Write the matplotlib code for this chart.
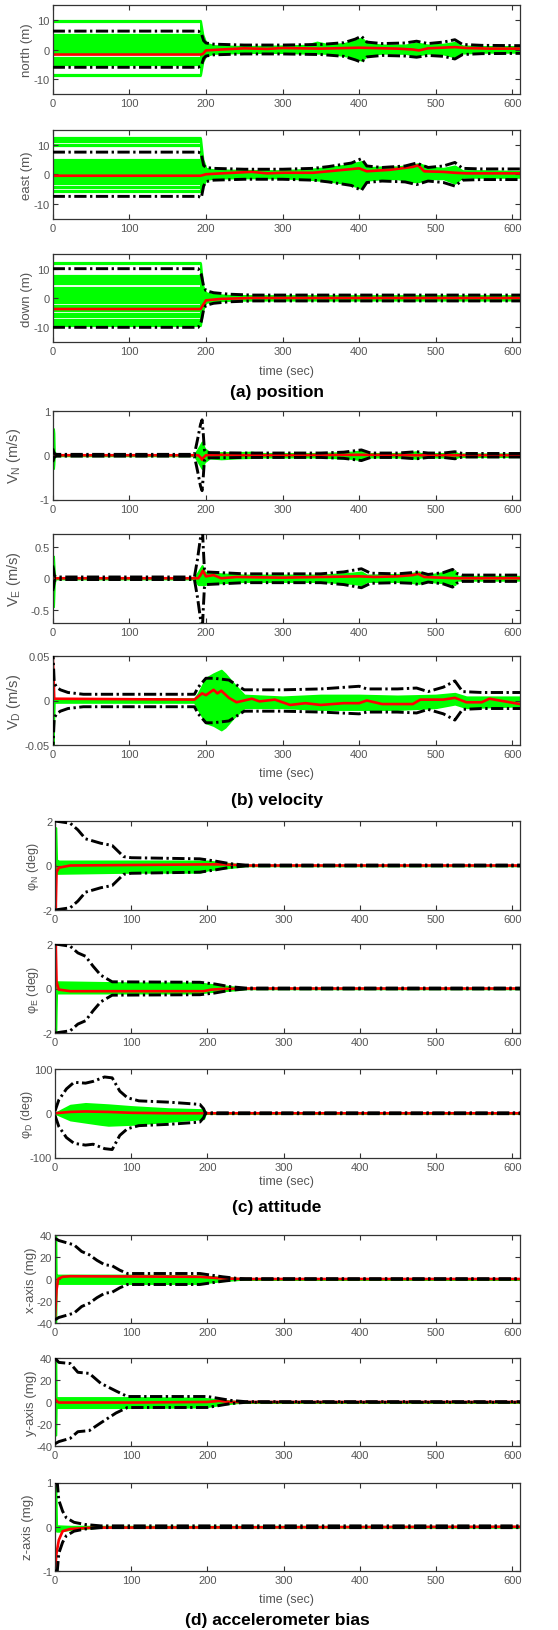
import matplotlib
matplotlib.use("Agg")
import matplotlib.pyplot as plt
from matplotlib.ticker import FuncFormatter

plt.rcParams['font.family'] = ['Liberation Sans', 'DejaVu Sans']
plt.rcParams['axes.unicode_minus'] = False
plt.rcParams['mathtext.fontset'] = 'custom'
plt.rcParams['mathtext.rm'] = 'Liberation Sans'
plt.rcParams['mathtext.it'] = 'Liberation Sans:italic'

# ---------------- (a) position ----------------
N_levels = [9.6, 4.8, 4.0, 3.2, 2.4, 1.6, 0.8, 0.0, -0.8, -2.8, -3.5, -4.2, -5.0, -8.5]
N_band_t = [193, 196, 200, 210, 250, 300, 330, 345, 360, 380, 395, 403, 412, 430, 460, 475, 490, 510, 525, 535, 560, 610]
N_band_up = [9.6, 5, 2.2, 1.3, 1.0, 1.2, 1.4, 2.5, 1.6, 2.0, 3.0, 3.8, 2.0, 1.5, 1.5, 2.2, 1.5, 1.8, 2.4, 1.2, 1.0, 1.0]
N_band_dn = [-8.5, -4, -2.0, -1.3, -1.0, -1.0, -1.2, -1.2, -1.3, -2.0, -2.8, -3.6, -1.8, -1.2, -1.3, -1.9, -1.2, -1.5, -2.5, -1.2, -0.9, -0.9]
N_sig_t = [0, 190, 194, 197, 200, 210, 250, 300, 350, 380, 395, 403, 410, 430, 460, 475, 490, 510, 525, 535, 560, 610]
N_sig_up = [6.2, 6.2, 5.5, 3.0, 2.2, 1.8, 1.5, 1.5, 1.7, 2.3, 3.5, 4.5, 2.5, 2.0, 2.2, 2.8, 2.0, 2.5, 3.3, 1.7, 1.4, 1.3]
N_sig_dn = [-6, -6, -5.5, -3, -2.2, -1.8, -1.5, -1.5, -1.7, -2.3, -3.5, -4.3, -2.5, -2.0, -2.2, -2.6, -2.0, -2.3, -3.2, -1.7, -1.4, -1.3]
N_mean_t = [0, 193, 196, 200, 220, 250, 280, 300, 350, 400, 450, 470, 478, 490, 525, 540, 570, 610]
N_mean = [-1.7, -1.7, -1.5, -0.3, 0, 0.4, 0.2, 0.5, 0.3, 0.6, 0.3, 0.0, -0.3, 0.4, 0.8, 0.5, 0.3, 0.3]

E_levels = [12.2, 11.2, 10.0, 5.0, 4.2, 3.4, 2.6, 1.8, 1.0, 0.2, -0.6, -1.4, -2.2, -3.0, -4.2, -5.8]
E_band_t = [193, 196, 200, 210, 250, 300, 340, 360, 380, 395, 403, 410, 430, 450, 470, 478, 490, 510, 525, 535, 560, 610]
E_band_up = [12.2, 5, 2.0, 1.5, 1.3, 1.2, 1.8, 2.3, 3.0, 3.8, 4.3, 2.2, 2.5, 2.5, 3.2, 3.6, 2.5, 2.0, 2.8, 1.2, 1.2, 1.0]
E_band_dn = [-5.8, -4, -1.8, -1.3, -1.2, -1.2, -1.8, -2.3, -3.0, -4.0, -4.8, -2.0, -1.5, -1.5, -2.5, -2.5, -1.5, -1.5, -3.0, -1.0, -1.0, -1.0]
E_sig_t = [0, 190, 194, 197, 200, 210, 250, 300, 340, 360, 390, 403, 410, 430, 460, 475, 490, 510, 525, 535, 560, 610]
E_sig_up = [7.5, 7.5, 7, 3, 2.3, 2, 1.7, 1.7, 2.0, 2.6, 3.8, 5.3, 2.8, 2.3, 2.8, 3.8, 2.3, 2.8, 4.0, 2.0, 1.8, 1.8]
E_sig_dn = [-7.5, -7.5, -8, -4, -2.5, -2, -1.7, -1.7, -2.0, -2.6, -3.8, -5.5, -2.8, -2.3, -2.6, -3.5, -2.3, -2.8, -4.0, -2.0, -1.8, -1.8]
E_mean_t = [0, 193, 196, 200, 220, 260, 280, 300, 340, 360, 400, 405, 410, 440, 470, 477, 485, 510, 525, 540, 610]
E_mean = [-0.5, -0.5, -0.3, 0, 0.3, 0.8, 0.3, 0.5, 0.5, 1.0, 2.0, 1.5, 1.0, 1.5, 2.5, 3.0, 1.0, 0.8, 0.5, 0.3, 0.3]

D_levels = [11.8, 7.6, 6.8, 6.0, 5.2, 3.4, 2.6, 1.8, 1.0, 0.2, -0.6, -1.2, -2.8, -3.6, -4.2, -5.6, -6.2, -7.6, -8.4, -9.2]
D_band_t = [193, 196, 200, 210, 230, 260, 610]
D_band_up = [11.8, 4, 1.8, 1.2, 0.9, 0.8, 0.8]
D_band_dn = [-9.2, -4, -1.5, -1.0, -0.8, -0.7, -0.7]
D_sig_t = [0, 190, 194, 197, 200, 210, 230, 260, 610]
D_sig_up = [10, 10, 8, 4, 2.5, 1.8, 1.3, 1.0, 1.0]
D_sig_dn = [-10, -10, -8, -4, -2.5, -1.8, -1.3, -1.0, -1.0]
D_mean_t = [0, 193, 196, 200, 220, 260, 610]
D_mean = [-3.75, -3.75, -2.5, -0.8, -0.3, 0, 0]

# ---------------- (b) velocity ----------------
VN_band_t = [0, 0.5, 1, 1.5, 2, 3, 185, 190, 195, 198, 205, 220, 240, 260, 270, 350, 390, 403, 410, 450, 470, 475, 480, 510, 525, 530, 610]
VN_band_up = [0.6, 0.6, 0.6, 0.5, 0.1, 0.01, 0.01, 0.15, 0.3, 0.15, 0.06, 0.06, 0.06, 0.07, 0.04, 0.04, 0.07, 0.1, 0.04, 0.04, 0.07, 0.08, 0.04, 0.04, 0.07, 0.03, 0.03]
VN_band_dn = [-0.3, -0.3, -0.3, -0.2, -0.05, -0.01, -0.01, -0.15, -0.3, -0.15, -0.06, -0.08, -0.06, -0.05, -0.04, -0.04, -0.07, -0.1, -0.04, -0.04, -0.06, -0.07, -0.04, -0.04, -0.06, -0.03, -0.03]
VN_sig_t = [0, 1, 2, 5, 185, 189, 193, 195, 196.5, 198, 200, 250, 350, 380, 403, 415, 450, 475, 490, 510, 525, 535, 610]
VN_sig_up = [0.15, 0.1, 0.04, 0.02, 0.02, 0.35, 0.7, 0.8, 0.5, 0.12, 0.06, 0.05, 0.05, 0.07, 0.12, 0.05, 0.05, 0.08, 0.05, 0.05, 0.08, 0.04, 0.04]
VN_sig_dn = [-0.15, -0.1, -0.04, -0.02, -0.02, -0.35, -0.7, -0.8, -0.5, -0.12, -0.06, -0.05, -0.05, -0.07, -0.12, -0.05, -0.05, -0.08, -0.05, -0.05, -0.08, -0.04, -0.04]
VN_mean_t = [0, 1, 2, 190, 193, 195, 197, 200, 220, 250, 300, 400, 475, 525, 610]
VN_mean = [0, -0.1, 0, 0, -0.05, -0.1, -0.05, 0, 0.01, 0, 0, 0.01, 0, 0, 0]

VE_band_t = [0, 1, 2, 3, 185, 190, 195, 198, 205, 250, 350, 390, 403, 410, 450, 470, 478, 490, 510, 525, 528, 610]
VE_band_up = [0.35, 0.35, 0.1, 0.01, 0.01, 0.1, 0.2, 0.1, 0.08, 0.05, 0.05, 0.08, 0.1, 0.05, 0.06, 0.08, 0.1, 0.05, 0.09, 0.12, 0.03, 0.03]
VE_band_dn = [-0.45, -0.45, -0.1, -0.01, -0.01, -0.1, -0.1, -0.1, -0.08, -0.05, -0.05, -0.08, -0.1, -0.05, -0.05, -0.07, -0.08, -0.05, -0.07, -0.1, -0.03, -0.03]
VE_sig_t = [0, 1, 2, 4, 185, 189, 193, 195, 196.5, 198, 200, 250, 350, 380, 403, 415, 450, 470, 478, 490, 510, 522, 527, 535, 610]
VE_sig_up = [0.2, 0.15, 0.05, 0.02, 0.02, 0.3, 0.65, 0.9, 0.5, 0.15, 0.1, 0.07, 0.07, 0.1, 0.15, 0.08, 0.07, 0.09, 0.1, 0.06, 0.09, 0.14, 0.08, 0.05, 0.05]
VE_sig_dn = [-0.2, -0.15, -0.05, -0.02, -0.02, -0.3, -0.65, -0.9, -0.5, -0.15, -0.1, -0.07, -0.07, -0.1, -0.15, -0.08, -0.07, -0.08, -0.1, -0.06, -0.09, -0.14, -0.08, -0.05, -0.05]
VE_mean_t = [0, 1, 2, 190, 193, 196, 200, 210, 220, 240, 300, 350, 400, 420, 450, 470, 477, 485, 525, 540, 610]
VE_mean = [0, 0.1, 0, 0, 0.05, 0.12, 0.03, 0.05, 0.0, 0.02, 0.01, 0.02, 0.03, 0.02, 0.03, 0.05, 0.07, 0.02, 0.0, 0.0, 0.0]

VD_band_t = [0, 0.5, 1, 2, 3, 185, 190, 200, 210, 220, 225, 235, 250, 300, 350, 400, 450, 500, 525, 540, 610]
VD_band_up = [0, 0, 0, 0.002, 0.002, 0.002, 0.008, 0.025, 0.03, 0.034, 0.03, 0.02, 0.006, 0.004, 0.006, 0.006, 0.005, 0.006, 0.008, 0.004, 0.004]
VD_band_dn = [-0.05, -0.05, -0.03, -0.002, -0.002, -0.002, -0.01, -0.025, -0.028, -0.033, -0.03, -0.02, -0.008, -0.008, -0.01, -0.01, -0.01, -0.008, -0.004, -0.008, -0.006]
VD_sig_t = [0, 1, 2, 5, 10, 20, 40, 185, 190, 200, 210, 230, 250, 300, 350, 400, 410, 450, 475, 490, 510, 525, 535, 560, 610]
VD_sig_up = [0.06, 0.04, 0.02, 0.015, 0.012, 0.009, 0.007, 0.007, 0.015, 0.025, 0.025, 0.023, 0.012, 0.012, 0.013, 0.016, 0.013, 0.013, 0.014, 0.01, 0.015, 0.022, 0.01, 0.009, 0.009]
VD_sig_dn = [-0.06, -0.04, -0.02, -0.015, -0.012, -0.009, -0.007, -0.007, -0.015, -0.025, -0.025, -0.023, -0.012, -0.012, -0.013, -0.015, -0.013, -0.013, -0.014, -0.01, -0.015, -0.022, -0.01, -0.009, -0.009]
VD_mean_t = [0, 1, 2, 185, 195, 200, 210, 215, 220, 230, 240, 260, 270, 290, 310, 330, 350, 380, 400, 410, 430, 470, 480, 510, 525, 540, 560, 570, 590, 610]
VD_mean = [0.05, 0.03, 0.002, 0.001, 0.008, 0.006, 0.012, 0.008, 0.011, 0.003, -0.002, 0.002, -0.001, 0.001, -0.005, -0.003, -0.005, -0.003, -0.003, 0, -0.004, -0.004, 0.001, 0.001, 0.003, -0.002, -0.002, 0.002, -0.001, -0.004]

# ---------------- (c) attitude ----------------
PN_band_t = [0, 0.5, 1, 1.5, 2, 5, 100, 190, 200, 220, 240, 250, 610]
PN_band_up = [1.7, 1.7, 1.7, 1.0, 0.25, 0.2, 0.2, 0.2, 0.2, 0.12, 0.05, 0.01, 0.01]
PN_band_dn = [0, 0, 0, -0.3, -0.35, -0.35, -0.3, -0.3, -0.2, -0.12, -0.05, -0.01, -0.01]
PN_sig_t = [0, 20, 30, 40, 60, 75, 90, 100, 190, 210, 230, 250, 610]
PN_sig_up = [2, 1.9, 1.6, 1.2, 1.0, 0.9, 0.4, 0.35, 0.3, 0.2, 0.08, 0.02, 0.02]
PN_sig_dn = [-2, -1.9, -1.6, -1.2, -1.0, -0.9, -0.4, -0.35, -0.3, -0.2, -0.08, -0.02, -0.02]
PN_mean_t = [0, 1, 2, 5, 20, 200, 220, 250, 610]
PN_mean = [0, -1.9, -0.3, -0.1, 0, 0.05, 0.05, 0, 0]

PE_band_t = [0, 0.5, 1, 1.5, 2, 5, 100, 190, 200, 220, 240, 250, 610]
PE_band_up = [0.3, 0.3, 0.3, 0.3, 0.3, 0.3, 0.25, 0.25, 0.2, 0.12, 0.05, 0.01, 0.01]
PE_band_dn = [-2, -2, -2, -1.0, -0.2, -0.2, -0.2, -0.2, -0.15, -0.1, -0.05, -0.01, -0.01]
PE_sig_t = [0, 20, 30, 40, 50, 60, 75, 190, 210, 230, 250, 610]
PE_sig_up = [2, 1.9, 1.6, 1.45, 1.0, 0.6, 0.3, 0.28, 0.2, 0.08, 0.02, 0.02]
PE_sig_dn = [-2, -1.9, -1.6, -1.45, -1.0, -0.6, -0.3, -0.28, -0.2, -0.08, -0.02, -0.02]
PE_mean_t = [0, 1, 2, 5, 20, 195, 205, 220, 250, 610]
PE_mean = [0, 2, 0.3, -0.05, -0.12, -0.12, -0.05, -0.02, 0, 0]

PD_band_t = [0, 20, 40, 60, 70, 100, 150, 195, 197, 610]
PD_band_up = [0, 18, 22, 20, 19, 15, 10, 8, 0.5, 0.5]
PD_band_dn = [0, -15, -20, -25, -27, -25, -18, -12, -0.5, -0.5]
PD_sig_t = [0, 5, 15, 25, 40, 50, 65, 75, 85, 95, 110, 150, 190, 195, 197, 610]
PD_sig_up = [5, 30, 55, 70, 68, 72, 82, 80, 50, 35, 28, 25, 20, 10, 1, 1]
PD_sig_dn = [-5, -30, -55, -68, -72, -70, -80, -82, -50, -35, -28, -25, -20, -10, -1, -1]
PD_mean_t = [0, 20, 40, 70, 100, 150, 196, 610]
PD_mean = [0, 3, 4, 3, 1, 0, 0, 0]

# ---------------- (d) accelerometer bias ----------------
AX_band_t = [0, 0.5, 1, 1.5, 3, 100, 190, 200, 220, 240, 250, 610]
AX_band_up = [40, 40, 40, 3.5, 3.5, 3.5, 3, 2.5, 1.5, 0.5, 0.2, 0.2]
AX_band_dn = [-40, -40, -40, -4, -4, -4, -4, -3, -1.5, -0.5, -0.2, -0.2]
AX_sig_t = [0, 5, 15, 25, 35, 45, 55, 65, 75, 85, 95, 190, 200, 220, 240, 250, 610]
AX_sig_up = [37, 35, 33, 31, 25, 22, 17, 13, 12, 8, 5, 5, 4, 2, 0.5, 0.3, 0.3]
AX_sig_dn = [-37, -35, -33, -31, -25, -22, -17, -13, -12, -8, -5, -5, -4, -2, -0.5, -0.3, -0.3]
AX_mean_t = [0, 2, 4, 10, 20, 190, 220, 250, 610]
AX_mean = [-37, -10, 0, 2, 2.5, 2, 0.5, 0, 0]

AY_band_t = [0, 0.5, 1, 1.5, 3, 100, 190, 200, 220, 240, 250, 610]
AY_band_up = [40, 40, 40, 4, 4, 4, 3.5, 3, 1.5, 0.5, 0.2, 0.2]
AY_band_dn = [-30, -30, -30, -5, -5, -5, -4.5, -4, -2, -0.5, -0.2, -0.2]
AY_sig_t = [0, 5, 20, 30, 45, 60, 80, 95, 200, 230, 250, 610]
AY_sig_up = [40, 36, 35, 27, 26, 17, 10, 5, 5, 1.5, 0.3, 0.3]
AY_sig_dn = [-38, -36, -33, -27, -26, -19, -10, -5, -5, -1.5, -0.3, -0.3]
AY_mean_t = [0, 2, 5, 100, 200, 215, 230, 610]
AY_mean = [3, 1, -0.5, -0.5, 0, 1, 0, 0]

AZ_band_t = [0, 0.5, 1, 2, 5, 20, 40, 60, 610]
AZ_band_up = [1, 1, 1, 0.02, 0.02, 0.01, 0.01, 0.01, 0.01]
AZ_band_dn = [0, 0, 0, -0.1, -0.1, -0.06, -0.03, -0.01, -0.01]
AZ_sig_t = [0, 3, 5, 10, 15, 25, 40, 60, 610]
AZ_sig_up = [1, 1, 0.6, 0.35, 0.2, 0.1, 0.05, 0.02, 0.02]
AZ_sig_dn = [-1, -1, -0.6, -0.35, -0.2, -0.1, -0.05, -0.02, -0.02]
AZ_mean_t = [0, 2, 5, 10, 20, 50, 610]
AZ_mean = [-1, -0.6, -0.3, -0.1, -0.05, -0.02, 0]

ylabels = ['north (m)', 'east (m)', 'down (m)',
           r'V$_\mathrm{N}$ (m/s)', r'V$_\mathrm{E}$ (m/s)', r'V$_\mathrm{D}$ (m/s)',
           r'φ$_\mathrm{N}$ (deg)', r'φ$_\mathrm{E}$ (deg)', r'φ$_\mathrm{D}$ (deg)',
           'x-axis (mg)', 'y-axis (mg)', 'z-axis (mg)']
yticks = [[-10, 0, 10], [-10, 0, 10], [-10, 0, 10],
          [-1, 0, 1], [-0.5, 0, 0.5], [-0.05, 0, 0.05],
          [-2, 0, 2], [-2, 0, 2], [-100, 0, 100],
          [-40, -20, 0, 20, 40], [-40, -20, 0, 20, 40], [-1, 0, 1]]
ylims = [15, 15, 15, 1, 0.7, 0.05, 2, 2, 100, 40, 40, 1]
xticks = [0, 100, 200, 300, 400, 500, 600]
titles = ['(a) position', '(b) velocity', '(c) attitude', '(d) accelerometer bias']
t_gps = 193

panels = [
    (N_levels, N_band_t, N_band_up, N_band_dn, N_sig_t, N_sig_up, N_sig_dn, N_mean_t, N_mean),
    (E_levels, E_band_t, E_band_up, E_band_dn, E_sig_t, E_sig_up, E_sig_dn, E_mean_t, E_mean),
    (D_levels, D_band_t, D_band_up, D_band_dn, D_sig_t, D_sig_up, D_sig_dn, D_mean_t, D_mean),
    (None, VN_band_t, VN_band_up, VN_band_dn, VN_sig_t, VN_sig_up, VN_sig_dn, VN_mean_t, VN_mean),
    (None, VE_band_t, VE_band_up, VE_band_dn, VE_sig_t, VE_sig_up, VE_sig_dn, VE_mean_t, VE_mean),
    (None, VD_band_t, VD_band_up, VD_band_dn, VD_sig_t, VD_sig_up, VD_sig_dn, VD_mean_t, VD_mean),
    (None, PN_band_t, PN_band_up, PN_band_dn, PN_sig_t, PN_sig_up, PN_sig_dn, PN_mean_t, PN_mean),
    (None, PE_band_t, PE_band_up, PE_band_dn, PE_sig_t, PE_sig_up, PE_sig_dn, PE_mean_t, PE_mean),
    (None, PD_band_t, PD_band_up, PD_band_dn, PD_sig_t, PD_sig_up, PD_sig_dn, PD_mean_t, PD_mean),
    (None, AX_band_t, AX_band_up, AX_band_dn, AX_sig_t, AX_sig_up, AX_sig_dn, AX_mean_t, AX_mean),
    (None, AY_band_t, AY_band_up, AY_band_dn, AY_sig_t, AY_sig_up, AY_sig_dn, AY_mean_t, AY_mean),
    (None, AZ_band_t, AZ_band_up, AZ_band_dn, AZ_sig_t, AZ_sig_up, AZ_sig_dn, AZ_mean_t, AZ_mean),
]

# layout in pixels (top, bottom) of each axes box
W, H = 558, 1631
boxes = [(6, 95), (131, 219.5), (255, 343), (412, 500.5), (535, 623.5), (657, 746),
         (822, 911), (945, 1034), (1070, 1158.5), (1236, 1324), (1359, 1447), (1483.5, 1572)]
lefts = [52.7] * 6 + [55] * 6
right = 520
ylab_x = [27, 27, 27, 14, 14, 14, 33, 33, 27, 31, 31, 28]
time_y = [371.5, 774, 1182, 1600]
title_y = [392, 800, 1208, 1621]

GREEN = '#00ff00'
GRAY = '#555555'
dash = (0, (4.2, 1.2, 0.8, 1.2))

fig = plt.figure(figsize=(W / 100, H / 100), dpi=100)
fmt = FuncFormatter(lambda v, p: f'{v:g}')

for i, (lev, bt, bu, bd, st, su, sd, mt, mv) in enumerate(panels):
    top, bot = boxes[i]
    ax = fig.add_axes([lefts[i] / W, 1 - bot / H, (right - lefts[i]) / W, (bot - top) / H])
    if lev is not None:
        for L in lev:
            ax.plot([0, t_gps], [L, L], color=GREEN, lw=2.3, zorder=1, solid_capstyle='butt')
    ax.fill_between(bt, bd, bu, color=GREEN, lw=1.5, edgecolor=GREEN, zorder=1)
    ax.plot(mt, mv, color='red', lw=1.9, zorder=2)
    ax.plot(st, su, color='black', lw=2.1, linestyle=dash, zorder=3)
    ax.plot(st, sd, color='black', lw=2.1, linestyle=dash, zorder=3)
    ax.set_xlim(0, 610)
    ax.set_ylim(-ylims[i], ylims[i])
    ax.set_xticks(xticks)
    ax.set_yticks(yticks[i])
    ax.yaxis.set_major_formatter(fmt)
    ax.tick_params(direction='in', length=3.5, width=0.8, top=True, right=True,
                   labelsize=8, labelcolor=GRAY, color='#333333', pad=3)
    ax.tick_params(axis='y', pad=2)
    for s in ax.spines.values():
        s.set_color('#333333')
        s.set_linewidth(0.9)
    if 3 <= i <= 5:
        fs = 10.5
    elif 6 <= i <= 8:
        fs = 9
    else:
        fs = 9.5
    ax.set_ylabel(ylabels[i], fontsize=fs, color=GRAY, va='center')
    ax.yaxis.set_label_coords(ylab_x[i] / W, 1 - (top + bot) / 2 / H, transform=fig.transFigure)

for k in range(4):
    fig.text(286 / W, 1 - time_y[k] / H, 'time (sec)', ha='center', va='center', fontsize=9, color=GRAY)
    fig.text(277 / W, 1 - title_y[k] / H, titles[k], ha='center', va='center', fontsize=12.5,
             fontweight='bold', color='black')

fig.savefig('out.png', dpi=100)
